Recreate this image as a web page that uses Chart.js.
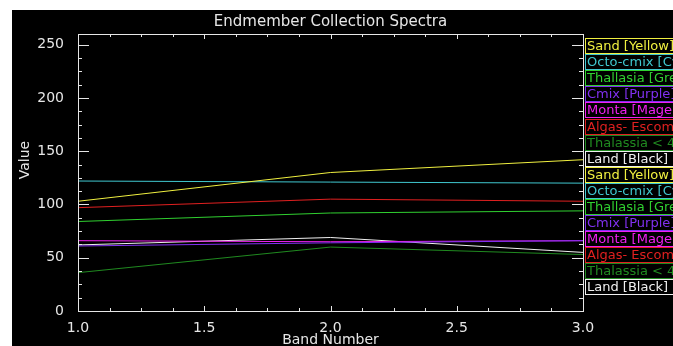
<!DOCTYPE html>
<html>
<head>
<meta charset="utf-8">
<script src="https://cdn.jsdelivr.net/npm/chart.js@4/dist/chart.umd.min.js"></script>
<style>
  html, body { margin: 0; padding: 0; background: #fff; }
  #wrap { position: absolute; left: 12px; top: 10px; width: 661px; height: 336px; background: #000; overflow: hidden; }
</style>
</head>
<body>
<div id="wrap"><canvas id="chart" width="661" height="336"></canvas></div>
<script>
// Endmember spectra
const bands = [1, 2, 3];
const seriesNames = ['Sand [Yellow]', 'Octo-cmix [Cyan]', 'Thallasia [Green]', 'Cmix [Purple]',
                     'Monta [Magenta]', 'Algas- Escombros [Red]', 'Thalassia < 4m [Dk Green]', 'Land [Black]'];
const seriesColors = ['#f0f040', '#40c8d0', '#30d030', '#8030f0', '#f020f0', '#e02020', '#208a20', '#f0f0f0'];
const sand = [103, 130, 142];
const octo = [122, 121, 120];
const thallasia = [84, 92, 94];
const cmix = [61, 64, 66];
const monta = [66, 65, 66];
const algas = [97, 105, 103];
const thalassiaDeep = [36, 60, 53];
const land = [62, 69, 55];
const seriesValues = [sand, octo, thallasia, cmix, monta, algas, thalassiaDeep, land];
const xTicks = [1.0, 1.5, 2.0, 2.5, 3.0];
const yTicks = [0, 50, 100, 150, 200, 250];

const FONT = '"DejaVu Sans", sans-serif';
const FG = '#e6e6e6';

const idlFrame = {
    id: 'idlFrame',
    afterDraw(chart) {
        const ctx = chart.ctx;
        const a = chart.chartArea;
        const xs = chart.scales.x, ys = chart.scales.y;
        ctx.save();
        ctx.strokeStyle = FG;
        ctx.lineWidth = 1;
        ctx.strokeRect(a.left + 0.5, a.top + 0.5, a.right - a.left, a.bottom - a.top);

        // x ticks bottom and top, pointing in
        ctx.beginPath();
        for (let i = 0; i < xTicks.length - 1; i++) {
            for (let k = 0; k < 4; k++) {
                const v = xTicks[i] + k * (xTicks[i + 1] - xTicks[i]) / 4;
                const px = Math.round(xs.getPixelForValue(v)) + 0.5;
                const len = k === 0 ? 5 : 3;
                ctx.moveTo(px, a.bottom); ctx.lineTo(px, a.bottom - len);
                ctx.moveTo(px, a.top); ctx.lineTo(px, a.top + len);
            }
        }
        // y ticks left and right
        for (let i = 0; i < yTicks.length; i++) {
            for (let k = 0; k < 4; k++) {
                const v = yTicks[i] + k * 12.5;
                if (v > ys.max) break;
                const py = Math.round(ys.getPixelForValue(v)) + 0.5;
                const len = k === 0 ? 11 : 4;
                ctx.moveTo(a.left, py); ctx.lineTo(a.left + len, py);
                ctx.moveTo(a.right, py); ctx.lineTo(a.right - len, py);
            }
        }
        ctx.stroke();

        // titles
        ctx.fillStyle = FG;
        ctx.font = '15px ' + FONT;
        ctx.textAlign = 'center';
        ctx.textBaseline = 'middle';
        ctx.fillText('Endmember Collection Spectra', (a.left + a.right) / 2, 12);
        ctx.font = '14px ' + FONT;
        ctx.fillText('Band Number', (a.left + a.right) / 2, 330);
        ctx.save();
        ctx.translate(13, 150);
        ctx.rotate(-Math.PI / 2);
        ctx.fillText('Value', 0, 0);
        ctx.restore();

        // legend, listed twice like the original
        ctx.font = '13px ' + FONT;
        ctx.textAlign = 'left';
        const step = 16.1;
        let top = 28;
        for (let rep = 0; rep < 2; rep++) {
            seriesNames.forEach((name, i) => {
                const y0 = Math.round(top) + 0.5;
                ctx.strokeStyle = seriesColors[i];
                ctx.strokeRect(a.right + 2.5, y0, 120, Math.round(step) - 1);
                ctx.fillStyle = seriesColors[i];
                ctx.fillText(name, a.right + 4, y0 + step / 2);
                top += step;
            });
        }
        ctx.restore();
    }
};

new Chart(document.getElementById('chart'), {
    type: 'line',
    data: {
        datasets: seriesNames.map((name, i) => ({
            label: name,
            data: bands.map((b, j) => ({ x: b, y: seriesValues[i][j] })),
            borderColor: seriesColors[i],
            borderWidth: 1,
            pointRadius: 0,
            tension: 0
        }))
    },
    options: {
        responsive: false,
        animation: false,
        layout: { padding: { top: 24, right: 90, left: 0, bottom: 0 } },
        plugins: { legend: { display: false }, title: { display: false }, tooltip: { enabled: false } },
        scales: {
            x: {
                type: 'linear', min: 1, max: 3,
                grid: { display: false }, border: { display: false },
                afterBuildTicks: s => { s.ticks = xTicks.map(v => ({ value: v })); },
                afterFit: s => { s.height = 35; },
                ticks: { color: FG, font: { family: FONT, size: 14 }, padding: 1, maxRotation: 0,
                         callback: v => v.toFixed(1) }
            },
            y: {
                type: 'linear', min: 0, max: 260,
                grid: { display: false }, border: { display: false },
                afterBuildTicks: s => { s.ticks = yTicks.map(v => ({ value: v })); },
                afterFit: s => { s.width = 66; },
                ticks: { color: FG, font: { family: FONT, size: 14 }, padding: 6 }
            }
        }
    },
    plugins: [idlFrame]
});
</script>
</body>
</html>
